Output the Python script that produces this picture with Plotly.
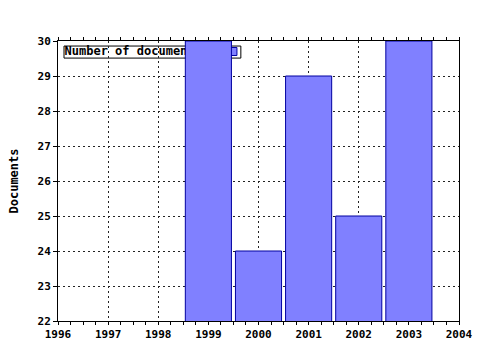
import plotly.graph_objects as go

years = [1999, 2000, 2001, 2002, 2003]
documents = [30, 24, 29, 25, 30]
series_name = "Number of documents"
y_title = "Documents"
x_ticks = [1996, 1997, 1998, 1999, 2000, 2001, 2002, 2003, 2004]
y_ticks = [22, 23, 24, 25, 26, 27, 28, 29, 30]

FONT = dict(family="DejaVu Sans Mono", size=11, color="black", weight="bold")
FILL = "#8080ff"
EDGE = "#0000a0"

fig = go.Figure()

# legend (drawn underneath the bars, as in the reference)
fig.add_trace(go.Scatter(
    x=[1996.13], y=[29.7], mode="text", text=[series_name],
    textposition="middle right",
    textfont=dict(family="DejaVu Sans Mono", size=12, color="black", weight="bold"),
    xaxis="x", yaxis="y", showlegend=False, hoverinfo="skip", cliponaxis=False))
fig.add_trace(go.Scatter(
    x=[1999.49], y=[29.7], mode="markers",
    marker=dict(symbol="square", size=8, color=FILL, line=dict(color=EDGE, width=1)),
    xaxis="x", yaxis="y", showlegend=False, hoverinfo="skip"))

fig.add_trace(go.Bar(
    x=years, y=documents, width=0.92, name=series_name,
    marker=dict(color=FILL, line=dict(color=EDGE, width=1)),
    xaxis="x2", yaxis="y2", showlegend=False))

fig.add_shape(type="rect", xref="paper", yref="paper",
              x0=0.015, x1=0.456, y0=0.939, y1=0.982,
              fillcolor="white", line=dict(color="black", width=1),
              layer="between")

axis_common = dict(showline=True, linecolor="black", linewidth=1,
                   showgrid=True, gridcolor="#222222", gridwidth=1, griddash="2px,3px",
                   zeroline=False, tickfont=FONT, ticks="outside",
                   tickcolor="black", automargin=False)

fig.update_layout(
    width=480, height=350,
    margin=dict(l=58, r=21, t=41, b=29),
    paper_bgcolor="white", plot_bgcolor="white",
    showlegend=False,
    xaxis=dict(range=[1996, 2004], tickvals=x_ticks, ticktext=[str(v) for v in x_ticks],
               mirror="allticks", ticklen=3,
               minor=dict(dtick=0.25, tick0=1996, ticks="outside", ticklen=3,
                          tickcolor="black", showgrid=False),
               **axis_common),
    yaxis=dict(range=[22, 30], tickvals=y_ticks, mirror=True, ticklen=4,
               title=dict(text=y_title, font=dict(FONT, size=12), standoff=16),
               **axis_common),
    xaxis2=dict(range=[1996, 2004], overlaying="x", anchor="y2", visible=False),
    yaxis2=dict(range=[22, 30], overlaying="y", anchor="x2", visible=False),
)

fig.write_html("out.html")
